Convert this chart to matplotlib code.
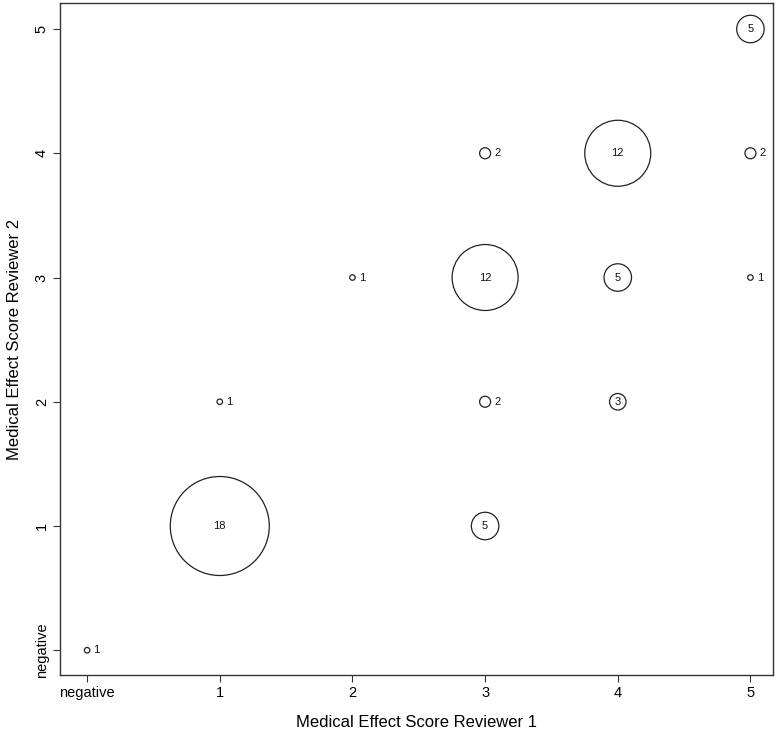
import matplotlib
matplotlib.use("Agg")
import matplotlib.pyplot as plt

plt.rcParams["font.family"] = ["Liberation Sans", "DejaVu Sans"]

# counts of paired scores (0 = "negative")
reviewer1 = [0, 1, 1, 2, 3, 3, 3, 3, 4, 4, 4, 5, 5, 5]
reviewer2 = [0, 1, 2, 3, 1, 2, 3, 4, 2, 3, 4, 3, 4, 5]
counts = [1, 18, 1, 1, 5, 2, 12, 2, 3, 5, 12, 1, 2, 5]
tick_labels = ["negative", "1", "2", "3", "4", "5"]

fig = plt.figure(figsize=(7.8, 7.33), dpi=100)
ax = fig.add_axes([0.077, 0.079, 0.914, 0.917])

# radius grows linearly with the count (like R's symbols(circles=...))
px = 72 / 100
diam_pt = [2 * 2.75 * c * px for c in counts]
ax.scatter(reviewer1, reviewer2, s=[d ** 2 for d in diam_pt],
           facecolors="none", edgecolors="#222222", linewidths=0.9, zorder=2)

for x, y, c, d in zip(reviewer1, reviewer2, counts, diam_pt):
    if c >= 3:
        ax.text(x, y, str(c), ha="center", va="center", fontsize=8, color="#111111")
    else:
        ax.annotate(str(c), (x, y), xytext=(d / 2 + 2.5, 0), textcoords="offset points",
                    ha="left", va="center", fontsize=8, color="#111111")

ax.set_xlim(-0.204, 5.17)
ax.set_ylim(-0.2, 5.21)
ax.set_xticks(range(6))
ax.set_xticklabels(tick_labels, fontsize=10.5)
ax.set_yticks(range(6))
ax.set_yticklabels(tick_labels, fontsize=10.5, rotation=90, va="center")
ax.tick_params(length=5, width=0.8, color="#333333", pad=3)
for sp in ax.spines.values():
    sp.set_color("#333333")
    sp.set_linewidth(1.0)

ax.set_xlabel("Medical Effect Score Reviewer 1", fontsize=12, labelpad=11)
ax.set_ylabel("Medical Effect Score Reviewer 2", fontsize=12, labelpad=9)

fig.savefig("out.png", dpi=100)
